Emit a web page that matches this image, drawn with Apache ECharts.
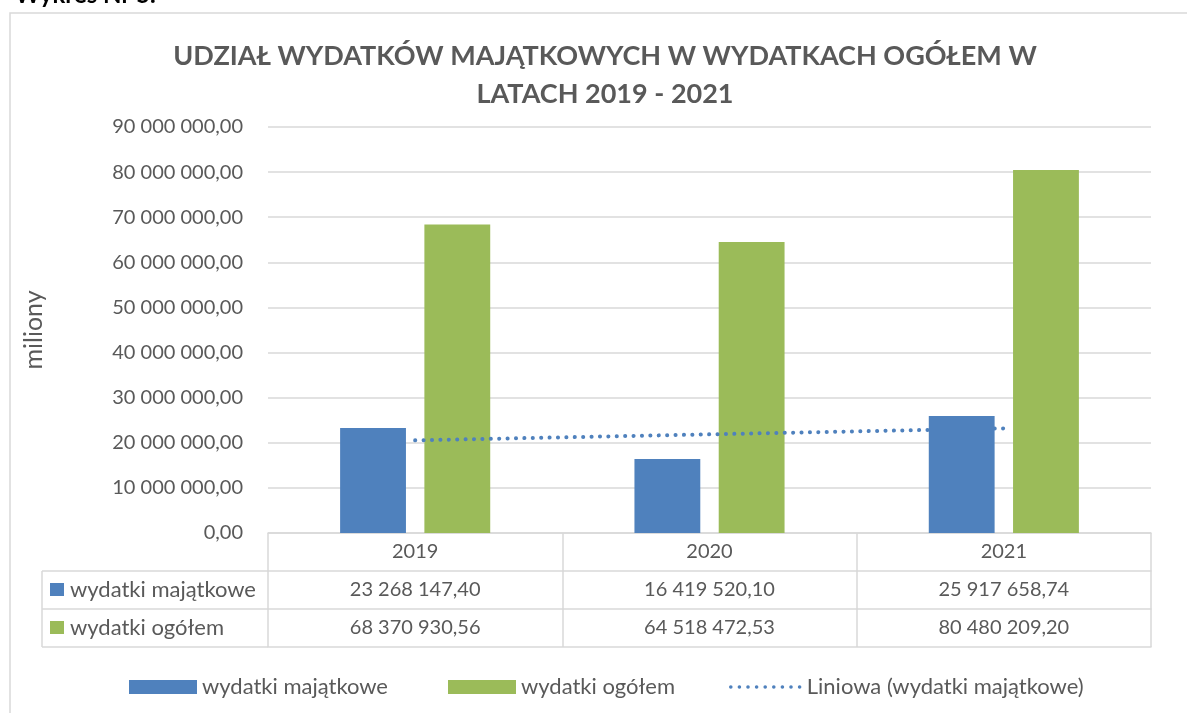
<!DOCTYPE html>
<html>
<head>
<meta charset="utf-8">
<title>Udział wydatków majątkowych</title>
<script src="https://cdn.jsdelivr.net/npm/echarts@6/dist/echarts.min.js"></script>
<style>
  html, body { margin: 0; padding: 0; background: #fff; }
  #chart { width: 1187px; height: 713px; }
</style>
</head>
<body>
<div id="chart"></div>
<script>
var years = ['2019', '2020', '2021']
var wydatkiMajatkowe = [23268147.40, 16419520.10, 25917658.74]
var wydatkiOgolem = [68370930.56, 64518472.53, 80480209.20]
var trendMajatkowe = [20540000, 21870000, 23190000]
var yMin = 0
var yMax = 90000000
var yStep = 10000000

var FONT = 'Lato, sans-serif'
var GREY = '#595959'
var LINE = '#d9d9d9'
var BLUE = '#4f81bd'
var GREEN = '#9bbb59'

function fmt (v) {
  var parts = v.toFixed(2).split('.')
  return parts[0].replace(/\B(?=(\d{3})+(?!\d))/g, ' ') + ',' + parts[1]
}

function tableAxis (offset, values) {
  return {
    type: 'category',
    data: years,
    position: 'bottom',
    offset: offset,
    axisLine: {lineStyle: {color: LINE, width: 1.5}},
    axisTick: {show: false},
    axisLabel: {
      show: !!values,
      interval: 0,
      margin: 9,
      color: GREY,
      fontSize: 20,
      fontFamily: FONT,
      formatter: function (v, i) { return values ? fmt(values[i]) : '' }
    }
  }
}

var legendText = {color: GREY, fontSize: 22, fontFamily: FONT}

var chart = echarts.init(document.getElementById('chart'))
chart.setOption({
  animation: false,
  title: {
    text: 'UDZIAŁ WYDATKÓW MAJĄTKOWYCH W WYDATKACH OGÓŁEM W\nLATACH 2019 - 2021',
    left: 605,
    textAlign: 'center',
    top: 37,
    padding: 0,
    textStyle: {
      color: GREY,
      fontSize: 27,
      fontWeight: 'bold',
      fontFamily: FONT,
      lineHeight: 38
    }
  },
  legend: [
    {
      data: [{name: 'wydatki majątkowe', icon: 'rect'}],
      left: 129, top: 676, padding: 0,
      itemWidth: 68, itemHeight: 14,
      textStyle: legendText
    },
    {
      data: [{name: 'wydatki ogółem', icon: 'rect'}],
      left: 448, top: 676, padding: 0,
      itemWidth: 68, itemHeight: 14,
      textStyle: legendText
    },
    {
      data: [{name: 'Liniowa (wydatki majątkowe)', itemStyle: {opacity: 0}}],
      left: 729, top: 676, padding: 0,
      itemWidth: 71, itemHeight: 14,
      lineStyle: {width: 3.5, type: [0.1, 8.5], cap: 'round'},
      textStyle: legendText
    }
  ],
  grid: {left: 268, right: 36, top: 127, bottom: 180},
  xAxis: [
    {
      type: 'category',
      data: years,
      position: 'bottom',
      axisLine: {lineStyle: {color: LINE, width: 1.5}},
      axisTick: {show: true, interval: 0, alignWithLabel: false, length: 114, lineStyle: {color: LINE, width: 1.5}},
      axisLabel: {interval: 0, margin: 9, color: GREY, fontSize: 20, fontFamily: FONT}
    },
    tableAxis(38, wydatkiMajatkowe),
    tableAxis(76, wydatkiOgolem),
    tableAxis(114, null)
  ],
  yAxis: {
    type: 'value',
    min: yMin,
    max: yMax,
    interval: yStep,
    name: 'miliony',
    nameLocation: 'middle',
    nameRotate: 90,
    nameGap: 222,
    nameTextStyle: {color: GREY, fontSize: 25, fontFamily: FONT},
    axisLine: {show: false},
    axisTick: {show: false},
    splitLine: {lineStyle: {color: LINE, width: 1.5}},
    axisLabel: {
      margin: 25,
      color: GREY,
      fontSize: 20,
      fontFamily: FONT,
      formatter: function (v) { return fmt(v) }
    }
  },
  series: [
    {
      name: 'wydatki majątkowe',
      type: 'bar',
      data: wydatkiMajatkowe,
      barGap: '28%',
      barCategoryGap: '49%',
      itemStyle: {color: BLUE},
      z: 4
    },
    {
      name: 'wydatki ogółem',
      type: 'bar',
      data: wydatkiOgolem,
      itemStyle: {color: GREEN},
      z: 2
    },
    {
      name: 'Liniowa (wydatki majątkowe)',
      type: 'line',
      data: trendMajatkowe,
      symbol: 'none',
      itemStyle: {color: BLUE},
      lineStyle: {color: BLUE, width: 4, type: [0.1, 8.3], cap: 'round'},
      z: 3
    }
  ],
  graphic: [
    {
      type: 'rect',
      shape: {x: 10, y: 13, width: 1300, height: 800},
      style: {fill: null, stroke: LINE, lineWidth: 1.5},
      silent: true
    },
    {
      type: 'text',
      x: 15, y: -17,
      style: {text: 'Wykres Nr 5.', fill: '#000', font: 'bold 24px ' + FONT}
    },
    // lewa kolumna tabeli danych
    {type: 'line', shape: {x1: 42, y1: 571, x2: 268, y2: 571}, style: {stroke: LINE, lineWidth: 1.5}},
    {type: 'line', shape: {x1: 42, y1: 609, x2: 268, y2: 609}, style: {stroke: LINE, lineWidth: 1.5}},
    {type: 'line', shape: {x1: 42, y1: 647, x2: 268, y2: 647}, style: {stroke: LINE, lineWidth: 1.5}},
    {type: 'line', shape: {x1: 42, y1: 571, x2: 42, y2: 647}, style: {stroke: LINE, lineWidth: 1.5}},
    {type: 'rect', shape: {x: 50, y: 583, width: 14, height: 13}, style: {fill: BLUE}},
    {type: 'rect', shape: {x: 50, y: 621, width: 14, height: 13}, style: {fill: GREEN}},
    {
      type: 'text', x: 70, y: 590,
      style: {text: 'wydatki majątkowe', fill: GREY, font: '22px ' + FONT, verticalAlign: 'middle'}
    },
    {
      type: 'text', x: 70, y: 628,
      style: {text: 'wydatki ogółem', fill: GREY, font: '22px ' + FONT, verticalAlign: 'middle'}
    }
  ]
})
</script>
</body>
</html>
